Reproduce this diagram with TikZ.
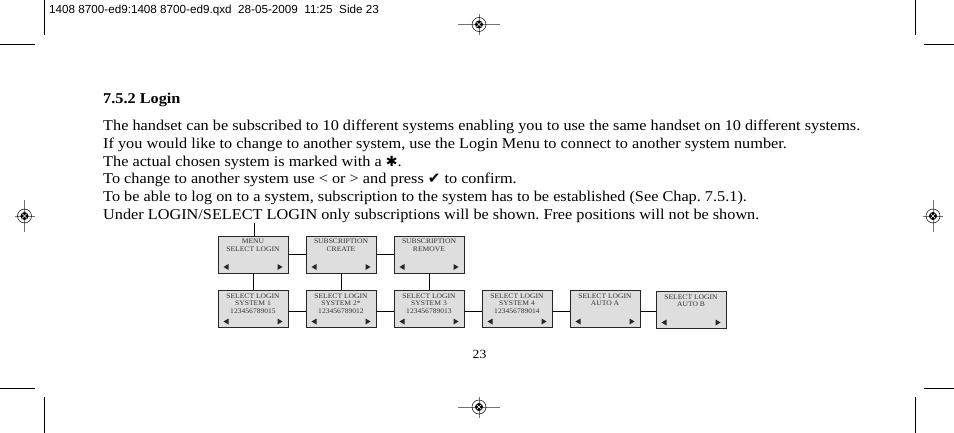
\documentclass[tikz,border=0pt]{standalone}
\usepackage{fontspec}
\setmainfont[FakeStretch=1.084]{Liberation Serif}
\newfontfamily\headfont{Liberation Sans}
\newfontfamily\symfont{DejaVu Sans}
\frenchspacing
\tikzset{
    panel/.style={draw=black!85, fill=black!13, line width=1pt, inner sep=0pt,
        minimum width=70pt, minimum height=37pt, text=black!80},
    link/.style={draw=black, line width=.9pt},
    crop/.style={draw=black, line width=.8pt},
    body/.style={anchor=base west, inner sep=0pt, font=\fontsize{15}{15}\selectfont}
}
% panel text stays at the top of the box
\newcommand{\paneltxt}[1]{\parbox[c][31pt][t]{68pt}{\centering\fontsize{7}{7.7}\selectfont #1}}
% both arrow keys of a panel
\newcommand{\panelkeys}[1]{
    \fill[black!85] ([shift={(6,-6.5)}]#1.south west) -- ++(5,-3) -- ++(0,6) -- cycle;
    \fill[black!85] ([shift={(-6,-6.5)}]#1.south east) -- ++(-5,-3) -- ++(0,6) -- cycle;
}
\newcommand{\regmark}[4]{
    \draw[black!55, line width=.6pt] (#1-#3,#2) -- (#1+#3,#2);
    \draw[black!55, line width=.6pt] (#1,#2-#4) -- (#1,#2+#4);
    \draw[black, line width=.5pt] (#1,#2) circle (7);
    \fill[black] (#1,#2) circle (4);
    \draw[white, line width=.5pt] (#1-2.5,#2-2.5) -- (#1+2.5,#2+2.5);
    \draw[white, line width=.5pt] (#1-2.5,#2+2.5) -- (#1+2.5,#2-2.5);
}
\begin{document}
\begin{tikzpicture}[x=1pt, y=-1pt]
    \useasboundingbox (0,0) rectangle (954,433);
    % crop marks
    \draw[crop] (44,0) -- (44,35);
    \draw[crop] (0,44) -- (35,44);
    \draw[crop] (915,0) -- (915,35);
    \draw[crop] (924,44) -- (954,44);
    \draw[crop] (44,397) -- (44,433);
    \draw[crop] (0,388) -- (35,388);
    \draw[crop] (915,397) -- (915,433);
    \draw[crop] (924,388) -- (954,388);
    \regmark{479}{24.5}{21}{10.5}
    \regmark{479}{407}{21}{10.5}
    \regmark{24.5}{216}{10}{16}
    \regmark{933}{216}{10}{16}
    \node[anchor=base west, inner sep=0pt, font=\headfont\fontsize{11.68}{11.68}\selectfont] (slug) at (49,13.5) {1408 8700-ed9:1408 8700-ed9.qxd\ \ 28-05-2009\ \ 11:25\ \ Side 23};
    % page text
    \node[body] (title) at (103,104) {\bfseries 7.5.2 Login};
    \node[body] (line1) at (103,131) {The handset can be subscribed to 10 different systems enabling you to use the same handset on 10 different systems.};
    \node[body] (line2) at (103,148.5) {If you would like to change to another system, use the Login Menu to connect to another system number.};
    \node[body] (line3) at (103,166.5) {The actual chosen system is marked with a {\symfont\fontsize{14}{14}\selectfont ✱}.};
    \node[body] (line4) at (103,184) {To change to another system use < or > and press {\symfont\fontsize{15}{15}\selectfont ✔} to confirm.};
    \node[body] (line5) at (103,201.5) {To be able to log on to a system, subscription to the system has to be established (See Chap. 7.5.1).};
    \node[body] (line6) at (103,219) {Under LOGIN/SELECT LOGIN only subscriptions will be shown. Free positions will not be shown.};
    \node[anchor=base, inner sep=0pt, font=\fontsize{12.5}{12.5}\selectfont] (pageno) at (479.5,358) {23};
    % panels
    \node[panel] (menu) at (253,254.5) {\paneltxt{MENU\\SELECT LOGIN}};
    \node[panel] (create) at (341,254.5) {\paneltxt{SUBSCRIPTION\\CREATE}};
    \node[panel] (remove) at (429,254.5) {\paneltxt{SUBSCRIPTION\\REMOVE}};
    \node[panel] (sys1) at (253,309) {\paneltxt{SELECT LOGIN\\SYSTEM 1\\123456789015}};
    \node[panel] (sys2) at (341,309) {\paneltxt{SELECT LOGIN\\SYSTEM 2*\\123456789012}};
    \node[panel] (sys3) at (429,309) {\paneltxt{SELECT LOGIN\\SYSTEM 3\\123456789013}};
    \node[panel] (sys4) at (517,309) {\paneltxt{SELECT LOGIN\\SYSTEM 4\\123456789014}};
    \node[panel] (autoa) at (605,309) {\paneltxt{SELECT LOGIN\\AUTO A}};
    \node[panel] (autob) at (691,310) {\paneltxt{SELECT LOGIN\\AUTO B}};
    \panelkeys{menu}
    \panelkeys{create}
    \panelkeys{remove}
    \panelkeys{sys1}
    \panelkeys{sys2}
    \panelkeys{sys3}
    \panelkeys{sys4}
    \panelkeys{autoa}
    \panelkeys{autob}
    % connectors
    \coordinate (entry) at (254,223);
    \draw[link] (entry) -- (entry |- menu.north);
    \draw[link] (menu) -- (create);
    \draw[link] (create) -- (remove);
    \draw[link] (menu) -- (sys1);
    \draw[link] (create) -- (sys2);
    \draw[link] (remove) -- (sys3);
    \draw[link] ([yshift=-2pt]sys1.east) -- ([yshift=-2pt]sys2.west);
    \draw[link] ([yshift=-2pt]sys2.east) -- ([yshift=-2pt]sys3.west);
    \draw[link] ([yshift=-2pt]sys3.east) -- ([yshift=-2pt]sys4.west);
    \draw[link] ([yshift=-2pt]sys4.east) -- ([yshift=-2pt]autoa.west);
    \draw[link] ([yshift=-2pt]autoa.east) -- ([yshift=-1pt]autob.west);
\end{tikzpicture}
\end{document}
